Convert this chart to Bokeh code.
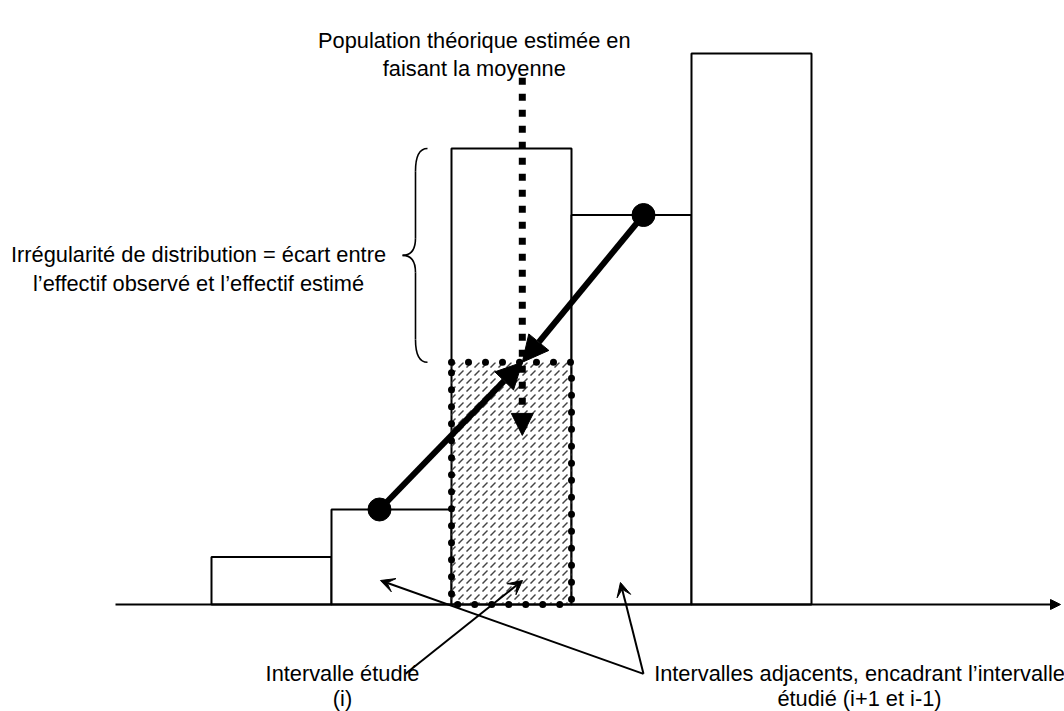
from bokeh.plotting import figure
from bokeh.models import Range1d, Arrow, NormalHead, VeeHead
from bokeh.core.properties import value
from bokeh.embed import file_html
from bokeh.resources import INLINE

# ---- data ----
interval_left = [0, 1, 2, 3, 4]
interval_right = [1, 2, 3, 4, 5]
observed = [10, 20, 96, 82, 116]
studied = 2
adjacent_x = [1.4, 3.6]                       # where the adjacent values are marked
adjacent_y = [observed[studied - 1], observed[studied + 1]]
estimated = (adjacent_y[0] + adjacent_y[1]) / 2

top_label = ["Population théorique estimée en", "faisant la moyenne"]
left_label = ["Irrégularité de distribution = écart entre", "l’effectif observé et l’effectif estimé"]
studied_label = ["Intervalle étudié", "(i)"]
adjacent_label = ["Intervalles adjacents, encadrant l’intervalle", "étudié (i+1 et i-1)"]

FONT = value("Liberation Sans")
FS = "21.8px"

p = figure(width=1064, height=711,
           x_range=Range1d(-1.7583, 7.1083), y_range=Range1d(-22.53, 127.16),
           output_backend="svg", toolbar_location=None, min_border=0,
           x_axis_location=None, y_axis_location=None,
           outline_line_color=None, background_fill_color="white",
           border_fill_color="white")
p.grid.visible = False

# bars
p.quad(left=interval_left, right=interval_right, bottom=0, top=observed,
       fill_color="white", line_color="black", line_width=2)

# estimated (hatched) rectangle
L, R = interval_left[studied], interval_right[studied]
p.quad(left=[L], right=[R], bottom=[0], top=[estimated],
       fill_alpha=0, line_alpha=0, hatch_pattern=",", hatch_color="#444444",
       hatch_scale=8, hatch_weight=1.5)
p.quad(left=[L], right=[R], bottom=[0], top=[estimated], fill_alpha=0,
       line_color="black", line_width=7, line_dash="0 17", line_cap="round")

# x axis with arrow
p.add_layout(Arrow(x_start=-0.8, y_start=0, x_end=7.075, y_end=0, line_width=2,
                   line_color="black",
                   end=NormalHead(size=10, fill_color="black", line_color="black")))

# brace
bx_end, bx_spine, bx_tip = 1.8, 1.7, 1.592
top_b, bot_b = observed[studied], estimated
mid_b = (top_b + bot_b) / 2
c1, c2 = 4.8, 3.6
p.quadratic(x0=[bx_end, bx_spine, bx_tip, bx_spine],
            y0=[top_b, mid_b + c2, mid_b, bot_b + c1],
            x1=[bx_spine, bx_tip, bx_spine, bx_end],
            y1=[top_b - c1, mid_b, mid_b - c2, bot_b],
            cx=[bx_spine, bx_spine, bx_spine, bx_spine],
            cy=[top_b, mid_b, mid_b, bot_b],
            line_color="black", line_width=1.6)
p.segment(x0=[bx_spine, bx_spine], y0=[top_b - c1, mid_b - c2],
          x1=[bx_spine, bx_spine], y1=[mid_b + c2, bot_b + c1],
          line_color="black", line_width=1.6)

# vertical dotted arrow
meet_x = 2.59
p.add_layout(Arrow(x_start=meet_x, y_start=110.9, x_end=meet_x, y_end=35.6,
                   line_width=7, line_dash="7 9", line_color="black",
                   end=NormalHead(size=22, fill_color="black", line_color="black")))

# thick arrows from adjacent values to the estimate
for ax, ay in zip(adjacent_x, adjacent_y):
    p.add_layout(Arrow(x_start=ax, y_start=ay, x_end=meet_x, y_end=estimated,
                       line_width=6, line_color="black",
                       end=NormalHead(size=26, fill_color="black", line_color="black")))
p.scatter(adjacent_x, adjacent_y, size=23, color="black")

# thin pointer arrows
pointers = [((1.617, -14.6), (2.592, 5.05)),
            ((3.6, -14.6), (1.408, 5.05)),
            ((3.6, -14.6), (3.408, 4.63))]
for (xs, ys), (xe, ye) in pointers:
    p.add_layout(Arrow(x_start=xs, y_start=ys, x_end=xe, y_end=ye,
                       line_width=2, line_color="black",
                       end=VeeHead(size=14, fill_color="black", line_color="black")))

# texts
def lines(texts, x, ys):
    p.text(x=[x] * len(texts), y=ys, text=texts, text_font=FONT,
           text_font_size=FS, text_align="center", text_baseline="alphabetic",
           text_color="black")

lines(top_label, 2.19, [118.74, 112.84])
lines(left_label, -0.108, [73.68, 67.58])
lines(studied_label, 1.092, [-14.5, -19.75])
lines(adjacent_label, 5.4, [-14.5, -19.75])

open("out.html", "w").write(file_html(p, INLINE))
